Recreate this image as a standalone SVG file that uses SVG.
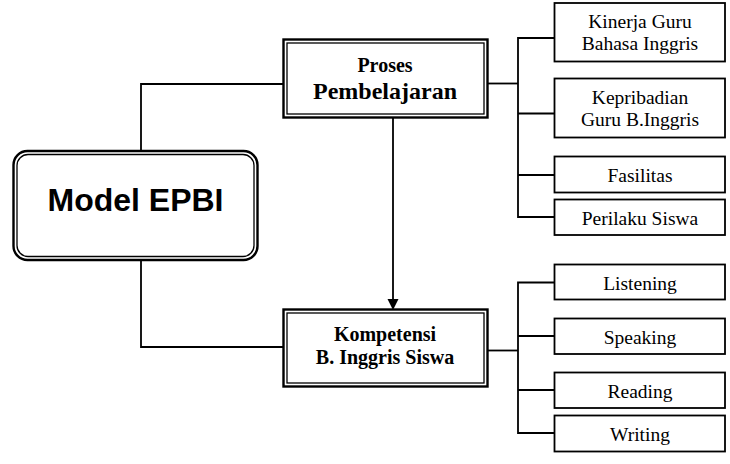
<svg xmlns="http://www.w3.org/2000/svg" width="730" height="464" viewBox="0 0 730 464">
<style>
.bg{fill:#fff}
.ln{fill:none;stroke:#000;stroke-width:1.8}
.outer{fill:#fff;stroke:#000;stroke-width:2.4}
.inner{fill:none;stroke:#000;stroke-width:1.3}
.box{fill:#fff;stroke:#000;stroke-width:1.8}
.t{font-family:"Liberation Serif","Times New Roman",serif;font-size:19.5px;fill:#000;text-anchor:middle}
.tb{font-family:"Liberation Serif","Times New Roman",serif;font-weight:bold;fill:#000;text-anchor:middle}
.ts{font-family:"Liberation Sans",Arial,sans-serif;font-weight:bold;font-size:32px;fill:#000;text-anchor:middle}
</style>
<rect class="bg" x="0" y="0" width="730" height="464"/>
<g id="connectors">
<polyline class="ln" points="141,151 141,84 284,84"/>
<polyline class="ln" points="141,260 141,347 284,347"/>
<line class="ln" x1="393" y1="118" x2="393" y2="300"/>
<polygon points="387.5,299 398.5,299 393,310" fill="#000"/>
<line class="ln" x1="487" y1="83.5" x2="518" y2="83.5"/>
<polyline class="ln" points="554,38 518,38 518,217 554,217"/>
<line class="ln" x1="518" y1="113.5" x2="554" y2="113.5"/>
<line class="ln" x1="518" y1="175" x2="554" y2="175"/>
<line class="ln" x1="487" y1="350.5" x2="518" y2="350.5"/>
<polyline class="ln" points="554,282.5 518,282.5 518,433 554,433"/>
<line class="ln" x1="518" y1="336" x2="554" y2="336"/>
<line class="ln" x1="518" y1="390" x2="554" y2="390"/>
</g>
<g id="model-epbi">
<rect class="outer" x="13.5" y="151" width="244" height="109" rx="14"/>
<rect class="inner" x="17" y="154.5" width="237" height="102" rx="11"/>
<text class="ts" x="135.5" y="210.5">Model EPBI</text>
</g>
<g id="proses">
<rect class="outer" x="283.5" y="39.5" width="204" height="78"/>
<rect class="inner" x="287" y="43" width="197" height="71"/>
<text class="tb" x="385" y="71.5" font-size="20">Proses</text>
<text class="tb" x="385" y="98.5" font-size="24">Pembelajaran</text>
</g>
<g id="kompetensi">
<rect class="outer" x="283.5" y="309.5" width="204" height="77"/>
<rect class="inner" x="287" y="313" width="197" height="70"/>
<text class="tb" x="385" y="340.5" font-size="20">Kompetensi</text>
<text class="tb" x="385" y="364" font-size="20">B. Inggris Siswa</text>
</g>
<g id="kinerja">
<rect class="box" x="554.5" y="3" width="170.5" height="58.5"/>
<text class="t" x="640" y="27.5">Kinerja Guru</text>
<text class="t" x="640" y="50">Bahasa Inggris</text>
</g>
<g id="kepribadian">
<rect class="box" x="554.5" y="78.5" width="170.5" height="59"/>
<text class="t" x="640" y="103.5">Kepribadian</text>
<text class="t" x="640" y="126">Guru B.Inggris</text>
</g>
<g id="fasilitas">
<rect class="box" x="554.5" y="156.5" width="170.5" height="36"/>
<text class="t" x="640" y="182">Fasilitas</text>
</g>
<g id="perilaku">
<rect class="box" x="554.5" y="199.5" width="170.5" height="35.5"/>
<text class="t" x="640" y="225">Perilaku Siswa</text>
</g>
<g id="listening">
<rect class="box" x="554.5" y="264.5" width="170.5" height="35"/>
<text class="t" x="640" y="290">Listening</text>
</g>
<g id="speaking">
<rect class="box" x="554.5" y="318.5" width="170.5" height="35.5"/>
<text class="t" x="640" y="344">Speaking</text>
</g>
<g id="reading">
<rect class="box" x="554.5" y="372.5" width="170.5" height="35.5"/>
<text class="t" x="640" y="398">Reading</text>
</g>
<g id="writing">
<rect class="box" x="554.5" y="415.5" width="170.5" height="36"/>
<text class="t" x="640" y="440.5">Writing</text>
</g>
</svg>
